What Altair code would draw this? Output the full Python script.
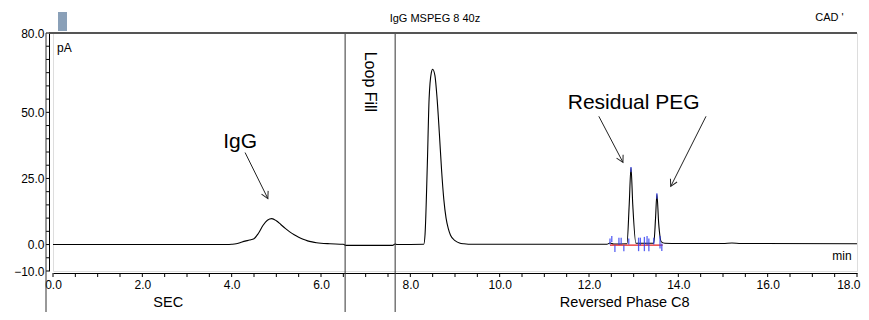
import altair as alt
import pandas as pd

# chromatogram trace (min, pA)
time = [0.0, 3.9, 4.0, 4.1, 4.2, 4.3, 4.4, 4.5, 4.6, 4.7, 4.8, 4.9, 5.0, 5.1, 5.2,
        5.3, 5.4, 5.5, 5.6, 5.7, 5.8, 5.9, 6.0, 6.2, 6.5, 6.55, 7.6, 7.66, 7.7, 8.3,
        8.33, 8.38, 8.42, 8.47, 8.5, 8.55, 8.6, 8.65, 8.7, 8.75, 8.8, 8.85, 8.9, 9.0,
        9.1, 9.2, 9.4, 10.0, 12.4, 12.47, 12.55, 12.85, 12.9, 12.94, 12.98, 13.05,
        13.45, 13.49, 13.52, 13.56, 13.62, 13.7, 14.0, 15.0, 15.2, 15.4, 18.0]
signal = [0.0, 0.0, 0.1, 0.3, 0.8, 1.3, 1.7, 2.2, 4.3, 7.2, 9.2, 9.8, 9.0, 7.6, 6.1,
          4.8, 3.7, 2.8, 2.0, 1.4, 1.0, 0.7, 0.5, 0.3, 0.1, -0.3, -0.3, 0.2, 0.0, 0.1,
          4.0, 30.0, 55.0, 65.0, 66.3, 64.0, 55.0, 42.0, 28.0, 17.0, 10.0, 6.0, 3.5, 1.5,
          0.6, 0.3, 0.1, 0.1, 0.1, 0.6, 0.2, 0.3, 15.0, 29.0, 15.0, 0.5,
          0.5, 10.0, 19.0, 8.0, 1.0, 0.5, 0.4, 0.4, 0.6, 0.4, 0.3]

# integration markers
mark_t = [12.47, 12.51, 12.58, 12.67, 12.72, 12.78, 12.89, 12.94, 13.11, 13.15,
          13.24, 13.30, 13.34, 13.45, 13.52, 13.59, 13.63]
mark_lo = [0.0, 1.0, -2.8, -0.2, 0.1, -2.5, 0.0, 27.4, -2.5, -0.3,
           -2.5, -0.3, -2.5, 0.0, 17.3, -1.5, -2.4]
mark_hi = [2.3, 3.2, -0.3, 2.6, 2.6, -0.3, 2.3, 29.3, 2.6, 2.6,
           2.9, 3.2, 2.3, 2.6, 19.4, 3.2, 0.4]
red_base = [12.47, 13.65]
red_level = [-0.2]

# section dividers
dividers = [6.54, 7.66]

x_ticks = [0, 0.5, 1, 1.5, 2, 2.5, 3, 3.5, 4, 4.5, 5, 5.5, 6, 6.5, 7, 7.5, 8, 8.5, 9,
           9.5, 10, 10.5, 11, 11.5, 12, 12.5, 13, 13.5, 14, 14.5, 15, 15.5, 16, 16.5,
           17, 17.5, 18]
x_labels = [0, 2, 4, 6, 8, 10, 12, 14, 16, 18]
y_ticks = [-10, -5, 0, 5, 10, 15, 20, 25, 30, 35, 40, 45, 50, 55, 60, 65, 70, 75, 80]
y_labels = [80, 50, 25, 0, -10]

W, H = 804, 238
FONT = "Liberation Sans"

xs = alt.Scale(domain=[0, 18], nice=False)
ys = alt.Scale(domain=[-10, 80], nice=False)

df = pd.DataFrame({"t": time, "s": signal})


def X(field):
    return alt.X(field, scale=xs, title=None)


def Y(field):
    return alt.Y(field, scale=ys, title=None)


line = alt.Chart(df).mark_line(color="black", strokeWidth=1.1, interpolate="monotone").encode(
    x=alt.X("t:Q", scale=xs, title=None,
            axis=alt.Axis(values=x_labels, format=".1f", offset=2, ticks=False,
                          domainColor="black", labelColor="black",
                          labelFont=FONT, labelFontSize=12, grid=False, labelPadding=6,
                          labelFlush=False, labelOverlap=False,
                          labelAlign={"expr": "datum.value >= 18 ? 'right' : 'center'"},
                          labelOffset={"expr": "datum.value >= 18 ? 3 : 0"})),
    y=alt.Y("s:Q", scale=ys, title=None,
            axis=alt.Axis(values=y_labels, format=".1f", offset=4, ticks=False,
                          domainColor="black", labelColor="black",
                          labelFont=FONT, labelFontSize=12, grid=False, labelPadding=5,
                          labelOverlap=False, labelFlush=False)),
)

# minor ticks
xtick_l = alt.Chart(pd.DataFrame({"t": x_ticks})).mark_rule(color="black", strokeWidth=1, clip=False).encode(
    x=X("t:Q"), y=alt.value(H + 2), y2=alt.value(H + 6))
ytick_l = alt.Chart(pd.DataFrame({"s": y_ticks})).mark_rule(color="black", strokeWidth=1, clip=False).encode(
    y=Y("s:Q"), x=alt.value(-7), x2=alt.value(-4))

red = alt.Chart(pd.DataFrame({"t": [red_base[0]], "t2": [red_base[1]], "s": red_level})).mark_rule(
    color="#e82020", strokeWidth=1.2).encode(x=X("t:Q"), x2="t2:Q", y=Y("s:Q"))

blue = alt.Chart(pd.DataFrame({"t": mark_t, "lo": mark_lo, "hi": mark_hi})).mark_rule(
    color="#2f3cf0", strokeWidth=1.3, opacity=0.8).encode(
    x=X("t:Q"), y=Y("lo:Q"), y2="hi:Q")

div = alt.Chart(pd.DataFrame({"t": dividers})).mark_rule(
    color="#333", strokeWidth=1, clip=False).encode(
    x=X("t:Q"), y=alt.value(-1), y2=alt.value(H + 50))

leftline = alt.Chart(pd.DataFrame({"a": [0]})).mark_rule(
    color="#333", strokeWidth=1, clip=False).encode(
    x=alt.value(-7), y=alt.value(0), y2=alt.value(H + 50))

topline = alt.Chart(pd.DataFrame({"a": [0]})).mark_rule(
    color="#555", strokeWidth=2, clip=False).encode(
    x=alt.value(-4), x2=alt.value(W), y=alt.value(0))

# annotations
ann = pd.DataFrame({
    "t": [4.19, 13.0],
    "s": [38.6, 53.4],
    "txt": ["IgG", "Residual PEG"],
})
ann_text = alt.Chart(ann).mark_text(font=FONT, fontSize=21, color="black").encode(
    x=X("t:Q"), y=Y("s:Q"), text="txt:N")

arrows = pd.DataFrame({
    "t": [4.30, 12.22, 14.62],
    "s": [34.8, 48.5, 48.5],
    "t2": [4.81, 12.76, 13.83],
    "s2": [17.4, 31.1, 22.0],
    "ang": [333.4, 332.4, 26.6],
})
arrow_lines = alt.Chart(arrows).mark_rule(color="#222", strokeWidth=1).encode(
    x=X("t:Q"), y=Y("s:Q"), x2="t2:Q", y2="s2:Q")
arrow_heads = alt.Chart(arrows).mark_point(
    shape="M -0.55 -1 L 0 0 L 0.55 -1", filled=False, color="#222", strokeWidth=1,
    size=180, opacity=1).encode(
    x=X("t2:Q"), y=Y("s2:Q"), angle=alt.Angle("ang:Q", scale=None))

pa = alt.Chart(pd.DataFrame({"t": [0.09], "s": [74.5], "txt": ["pA"]})).mark_text(
    font=FONT, fontSize=12, align="left", color="black").encode(
    x=X("t:Q"), y=Y("s:Q"), text="txt:N")
mn = alt.Chart(pd.DataFrame({"t": [17.88], "s": [-4.3], "txt": ["min"]})).mark_text(
    font=FONT, fontSize=12, align="right", color="black").encode(
    x=X("t:Q"), y=Y("s:Q"), text="txt:N")

loop = alt.Chart(pd.DataFrame({"t": [7.10], "s": [61.5], "txt": ["Loop Fill"]})).mark_text(
    font=FONT, fontSize=16, angle=90, color="black").encode(
    x=X("t:Q"), y=Y("s:Q"), text="txt:N")

# texts outside the plot area
title_t = alt.Chart(pd.DataFrame({"t": [8.55], "txt": ["IgG MSPEG 8 40z"]})).mark_text(
    font=FONT, fontSize=11, color="black", clip=False).encode(
    x=X("t:Q"), y=alt.value(-14), text="txt:N")
cad_t = alt.Chart(pd.DataFrame({"t": [17.7], "txt": ["CAD  '"]})).mark_text(
    font=FONT, fontSize=11, color="black", clip=False, align="right").encode(
    x=X("t:Q"), y=alt.value(-15), text="txt:N")

sec_t = alt.Chart(pd.DataFrame({"t": [2.58, 12.8], "txt": ["SEC", "Reversed Phase C8"]})).mark_text(
    font=FONT, fontSize=14.5, color="black", clip=False).encode(
    x=X("t:Q"), y=alt.value(H + 32), text="txt:N")

icon = alt.Chart(pd.DataFrame({"a": [0]})).mark_rect(color="#8aa0b8", clip=False).encode(
    x=alt.value(5), x2=alt.value(14), y=alt.value(-21), y2=alt.value(-2))

chart = alt.layer(
    line, xtick_l, ytick_l, red, blue, div, leftline, topline, ann_text, arrow_lines,
    arrow_heads, pa, mn, loop, title_t, cad_t, sec_t, icon
).properties(
    width=W, height=H,
    autosize=alt.AutoSizeParams(type="none"),
    padding={"left": 45, "top": 25, "right": 4, "bottom": 41},
).configure_view(stroke="#444", strokeWidth=1.2).configure_axis(
    labelOverlap=False, labelFlush=False
).configure(background="white")

chart.save("out.html", embed_options={"renderer": "svg", "actions": False})
